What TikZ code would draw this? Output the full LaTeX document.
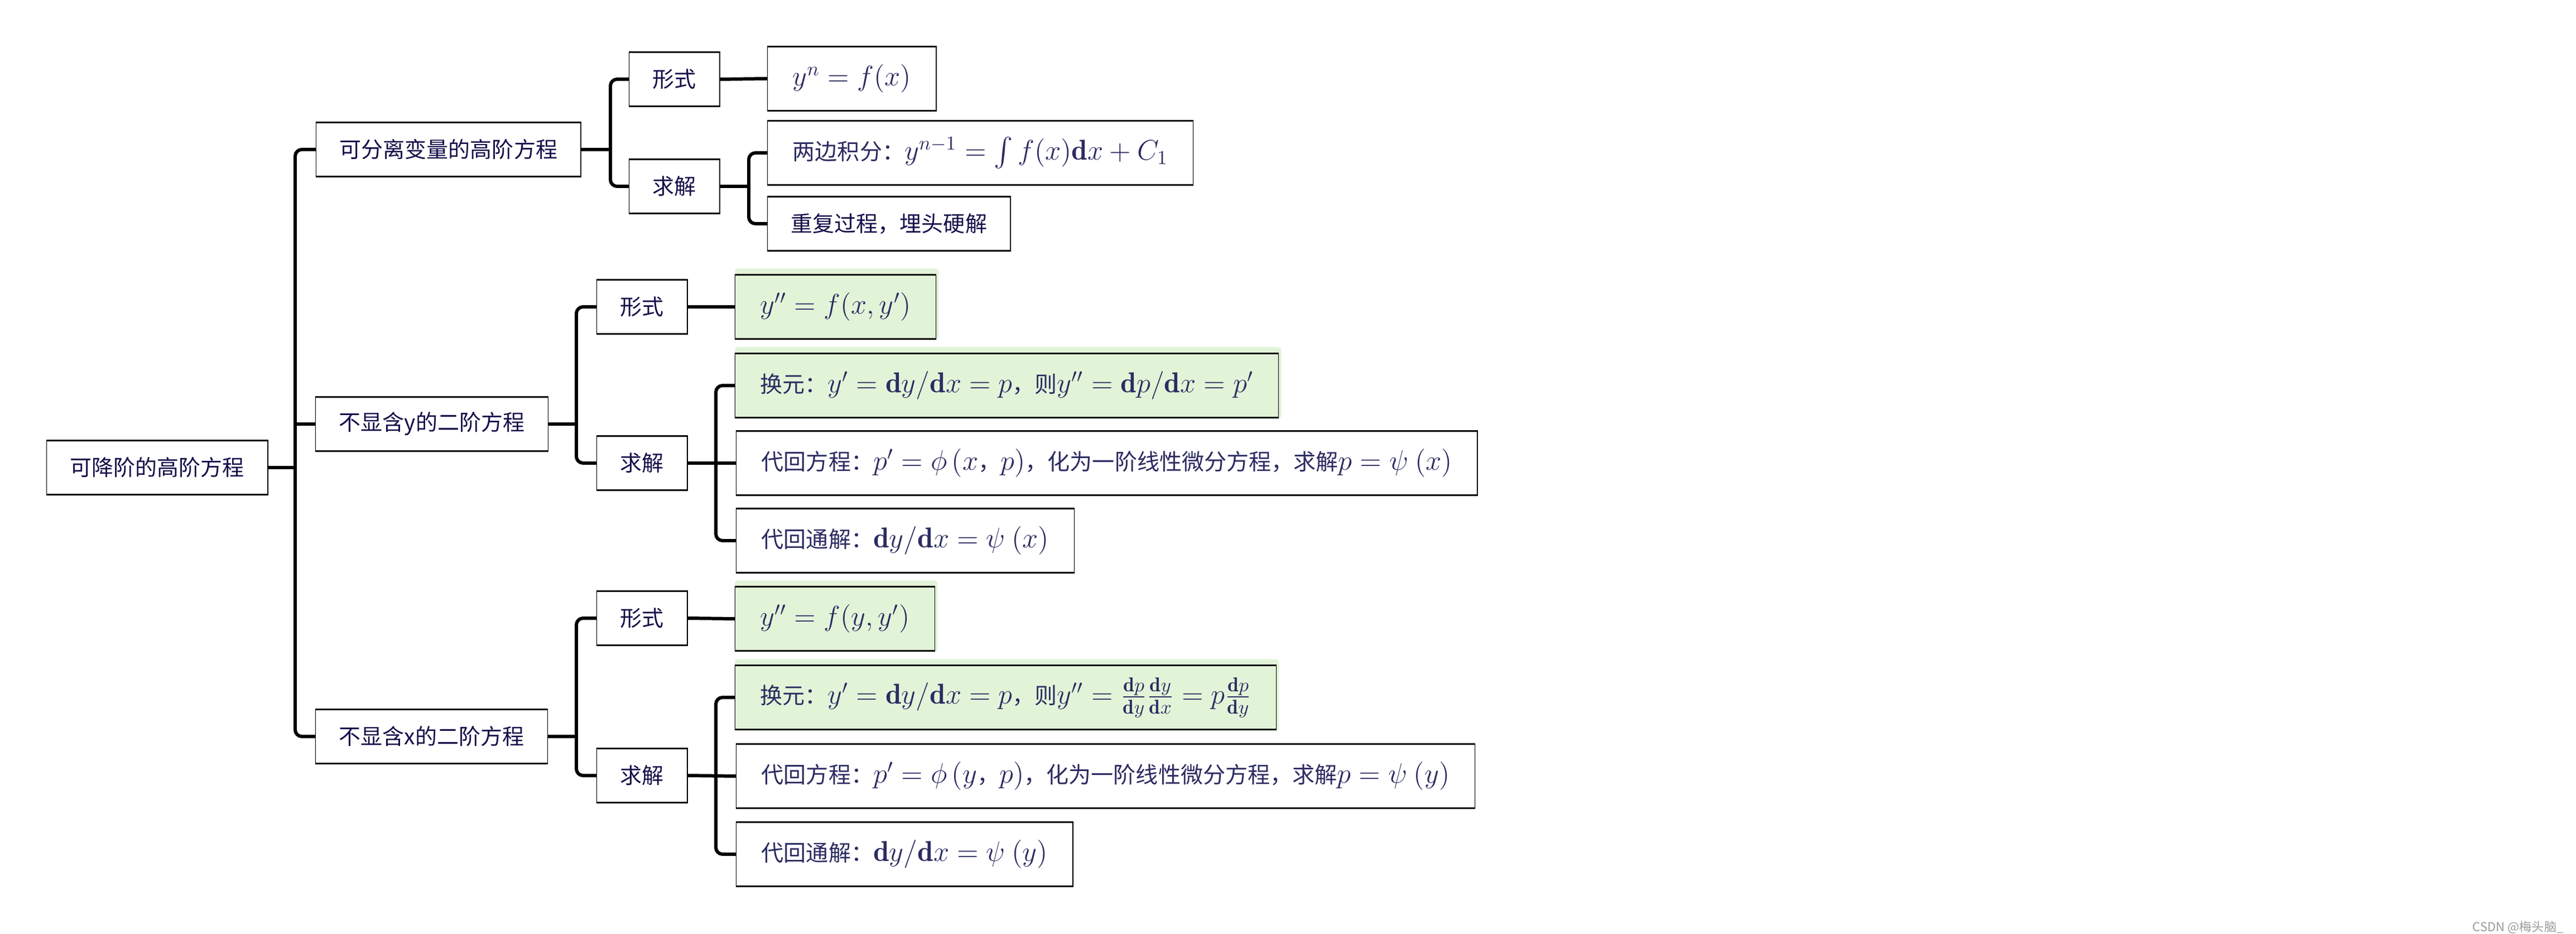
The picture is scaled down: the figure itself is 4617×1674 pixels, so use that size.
\documentclass[tikz,border=0pt]{standalone}
\usepackage{amsmath,amssymb}
\usepackage{fontspec}
\usepackage{xcolor}
\usepackage{tikz}
\usetikzlibrary{positioning,calc,backgrounds}
\newfontfamily\cjk{Noto Sans CJK SC}
\definecolor{inkblue}{HTML}{14104A}
\definecolor{mathblue}{HTML}{2C2C62}
\definecolor{leafgreen}{HTML}{E2F4D8}
\definecolor{markgray}{HTML}{9A9A9A}
% formulas are set larger than the text round them
\newcommand\fm[1]{{\fontsize{14.6}{16}\selectfont$#1$}}

\tikzset{
    topic/.style={draw=black, line width=0.4pt, fill=white, anchor=west, inner xsep=0.42cm, inner ysep=0pt,
        minimum height=0.96cm, text=inkblue, font=\cjk\fontsize{11.1}{13}\selectfont},
    formula/.style={topic, inner xsep=0.45cm, minimum height=1.14cm, text=mathblue, font=\cjk\fontsize{11.4}{14}\selectfont},
    hint/.style={formula, fill=leafgreen},
    link/.style={line width=1.7pt, rounded corners=0.12cm},
    edge/.style={line width=0.75pt}
}

\begin{document}
\begin{tikzpicture}[x=0.01cm, y=-0.01cm]
    \useasboundingbox (0,0) rectangle (4617,1674);

    % bars of the tree
    \coordinate (trunk) at (529,0);
    \coordinate (sepBar) at (1094,0);
    \coordinate (sepSolveBar) at (1342,0);
    \coordinate (noyBar) at (1033,0);
    \coordinate (noySolveBar) at (1283,0);
    \coordinate (noxBar) at (1033,0);
    \coordinate (noxSolveBar) at (1283,0);

    % root and first level
    \node[topic] (root) at (83,838) {可降阶的高阶方程};
    \node[topic] (sep) at (566,268) {可分离变量的高阶方程};
    \node[topic] (noy) at (565,760) {不显含y的二阶方程};
    \node[topic] (nox) at (565,1320) {不显含x的二阶方程};

    % separable
    \node[topic] (sepForm) at (1127,142) {形式};
    \node[topic] (sepSolve) at (1127,334) {求解};
    \node[formula] (sepEq) at (1375,141) {\fm{y^n=f(x)}};
    \node[formula] (sepInt) at (1375,274) {两边积分：\fm{y^{n-1}=\int f(x)\mathbf{d}x+C_1}};
    \node[topic] (sepRep) at (1375,401) {重复过程，埋头硬解};

    % no y
    \node[topic] (noyForm) at (1069,550) {形式};
    \node[topic] (noySolve) at (1069,830) {求解};
    \node[hint] (noyEq) at (1317,550) {\fm{y''=f(x,y')}};
    \node[hint] (noySub) at (1317,691) {换元：\fm{y'=\mathbf{d}y/\mathbf{d}x=p}，则\fm{y''=\mathbf{d}p/\mathbf{d}x=p'}};
    \node[formula] (noyBack) at (1319,830) {代回方程：\fm{p'=\phi\,(x}，\fm{p)}，化为一阶线性微分方程，求解\fm{p=\psi\ (x)}};
    \node[formula] (noyGen) at (1319,969) {代回通解：\fm{\mathbf{d}y/\mathbf{d}x=\psi\ (x)}};

    % no x
    \node[topic] (noxForm) at (1069,1108) {形式};
    \node[topic] (noxSolve) at (1069,1390) {求解};
    \node[hint] (noxEq) at (1317,1109) {\fm{y''=f(y,y')}};
    \node[hint] (noxSub) at (1317,1250) {换元：\fm{y'=\mathbf{d}y/\mathbf{d}x=p}，则\fm{y''=\frac{\mathbf{d}p}{\mathbf{d}y}\frac{\mathbf{d}y}{\mathbf{d}x}=p\frac{\mathbf{d}p}{\mathbf{d}y}}};
    \node[formula] (noxBack) at (1319,1391) {代回方程：\fm{p'=\phi\,(y}，\fm{p)}，化为一阶线性微分方程，求解\fm{p=\psi\ (y)}};
    \node[formula] (noxGen) at (1319,1531) {代回通解：\fm{\mathbf{d}y/\mathbf{d}x=\psi\ (y)}};

    % green fill runs a little past the outline
    \begin{scope}[on background layer]
        \foreach \n in {noyEq,noySub,noxEq,noxSub}
            \fill[leafgreen, rounded corners=1.5pt] ([yshift=0.11cm]\n.north west) rectangle ([xshift=0.04cm,yshift=-0.02cm]\n.south east);
    \end{scope}

    % heavier top and bottom strokes
    \foreach \n in {root,sep,noy,nox,sepForm,sepSolve,sepEq,sepInt,sepRep,noyForm,noySolve,noyEq,noySub,noyBack,noyGen,noxForm,noxSolve,noxEq,noxSub,noxBack,noxGen}
        \draw[edge] (\n.north west) -- (\n.north east) (\n.south west) -- (\n.south east);

    % connectors
    \draw[link] (root.east) -- (root.east -| trunk);
    \draw[link] (sep.west) -| (trunk |- noy.west) |- (nox.west);
    \draw[link] (trunk |- noy.west) -- (noy.west);

    \draw[link] (sep.east) -- (sep.east -| sepBar);
    \draw[link] (sepForm.west) -| (sepBar |- sep.east) |- (sepSolve.west);
    \draw[link] (sepForm.east) -- (sepEq.west);
    \draw[link] (sepSolve.east) -- (sepSolve.east -| sepSolveBar);
    \draw[link] (sepInt.west) -| (sepSolveBar |- sepSolve.east) |- (sepRep.west);

    \draw[link] (noy.east) -- (noy.east -| noyBar);
    \draw[link] (noyForm.west) -| (noyBar |- noy.east) |- (noySolve.west);
    \draw[link] (noyForm.east) -- (noyEq.west);
    \draw[link] (noySolve.east) -- (noyBack.west);
    \draw[link] (noySub.west) -| (noySolveBar |- noyBack.west) |- (noyGen.west);

    \draw[link] (nox.east) -- (nox.east -| noxBar);
    \draw[link] (noxForm.west) -| (noxBar |- nox.east) |- (noxSolve.west);
    \draw[link] (noxForm.east) -- (noxEq.west);
    \draw[link] (noxSolve.east) -- (noxBack.west);
    \draw[link] (noxSub.west) -| (noxSolveBar |- noxBack.west) |- (noxGen.west);

    \node[anchor=east, text=markgray, font=\cjk\fontsize{6.3}{7}\selectfont] (mark) at (4607,1662) {CSDN @梅头脑\_};
\end{tikzpicture}
\end{document}
